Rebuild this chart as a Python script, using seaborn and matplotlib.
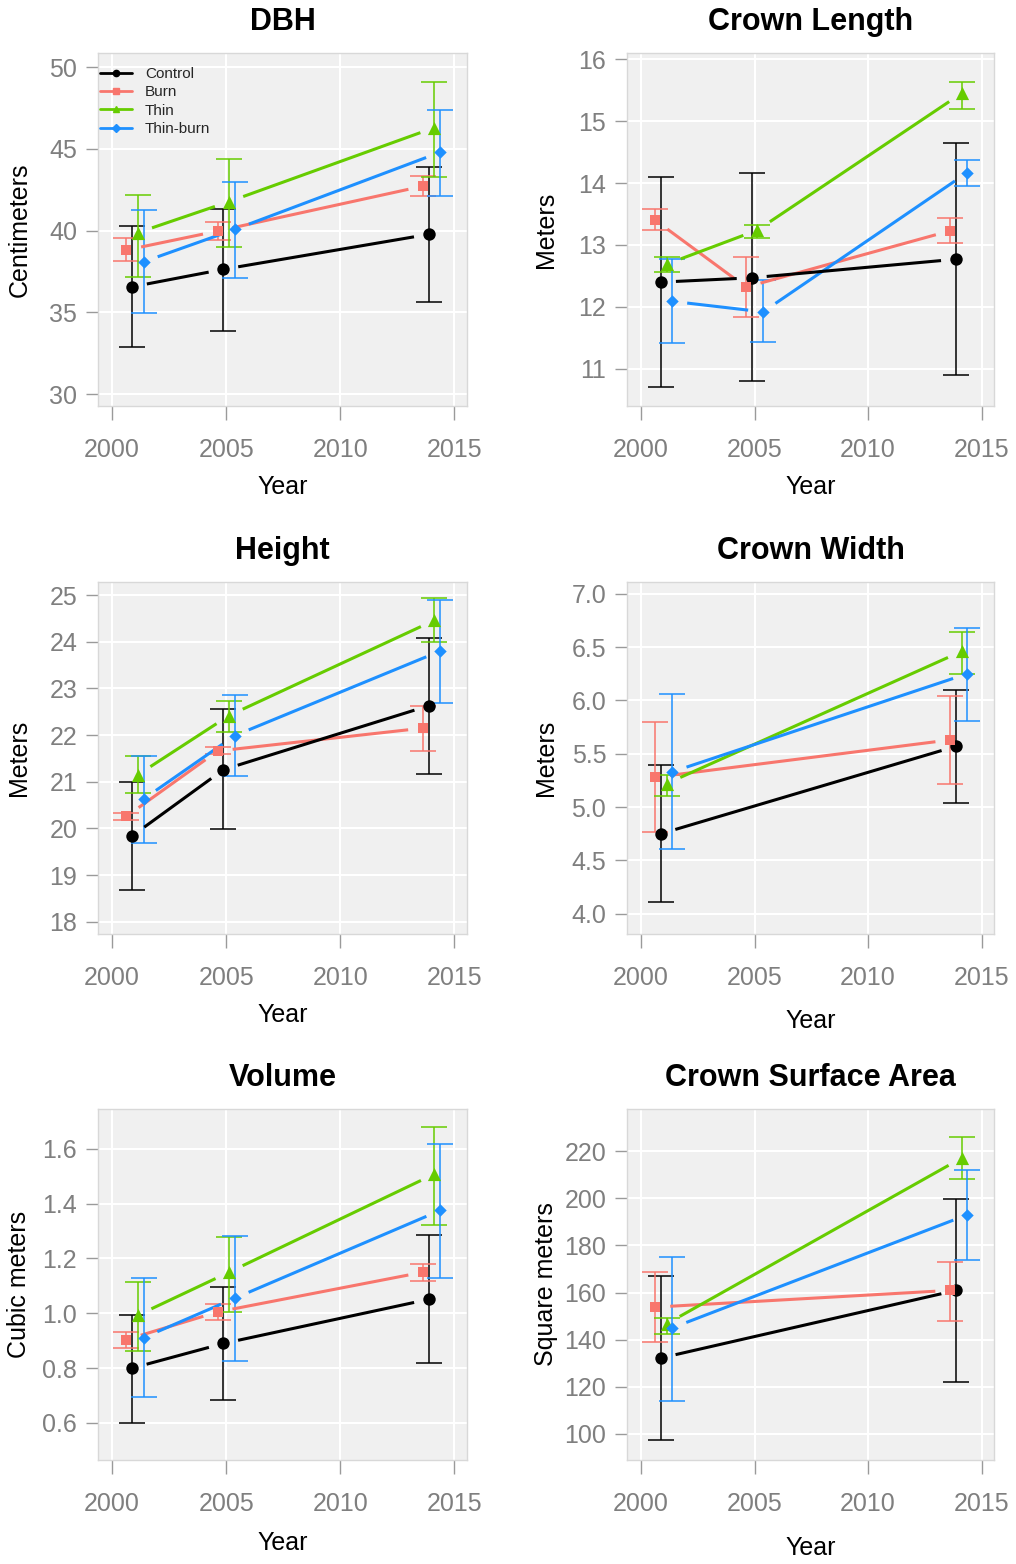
import numpy as np
import pandas as pd
import matplotlib
matplotlib.use("Agg")
import matplotlib.pyplot as plt
from matplotlib.lines import Line2D
import seaborn as sns

# ---------------- data ----------------
TREATMENTS = ["Control", "Burn", "Thin", "Thin-burn"]
YEARS_3 = [2001, 2005, 2014]
YEARS_2 = [2001, 2014]
X_TICKS = [2000, 2005, 2010, 2015]

dbh_mean = {"Control": [36.56, 37.63, 39.77], "Burn": [38.81, 39.97, 42.72],
            "Thin": [39.87, 41.77, 46.30], "Thin-burn": [38.09, 40.07, 44.79]}
dbh_low = {"Control": [32.86, 33.85, 35.65], "Burn": [38.13, 39.42, 42.13],
           "Thin": [37.18, 39.01, 43.29], "Thin-burn": [34.93, 37.08, 42.13]}
dbh_high = {"Control": [40.29, 41.31, 43.86], "Burn": [39.52, 40.54, 43.33],
            "Thin": [42.17, 44.35, 49.10], "Thin-burn": [41.24, 42.97, 47.40]}

cl_mean = {"Control": [12.40, 12.47, 12.77], "Burn": [13.40, 12.32, 13.23],
           "Thin": [12.69, 13.24, 15.45], "Thin-burn": [12.09, 11.92, 14.17]}
cl_low = {"Control": [10.71, 10.80, 10.90], "Burn": [13.24, 11.84, 13.03],
          "Thin": [12.56, 13.12, 15.19], "Thin-burn": [11.41, 11.44, 13.96]}
cl_high = {"Control": [14.09, 14.16, 14.64], "Burn": [13.58, 12.80, 13.44],
           "Thin": [12.81, 13.33, 15.63], "Thin-burn": [12.77, 12.44, 14.37]}

ht_mean = {"Control": [19.84, 21.26, 22.63], "Burn": [20.26, 21.66, 22.15],
           "Thin": [21.15, 22.42, 24.46], "Thin-burn": [20.63, 21.99, 23.80]}
ht_low = {"Control": [18.68, 19.98, 21.17], "Burn": [20.19, 21.60, 21.67],
          "Thin": [20.75, 22.06, 23.99], "Thin-burn": [19.68, 21.12, 22.69]}
ht_high = {"Control": [20.99, 22.56, 24.09], "Burn": [20.33, 21.75, 22.63],
           "Thin": [21.56, 22.74, 24.93], "Thin-burn": [21.56, 22.87, 24.89]}

cw_mean = {"Control": [4.75, 5.57], "Burn": [5.28, 5.63],
           "Thin": [5.22, 6.46], "Thin-burn": [5.33, 6.25]}
cw_low = {"Control": [4.11, 5.04], "Burn": [4.77, 5.22],
          "Thin": [5.10, 6.25], "Thin-burn": [4.61, 5.81]}
cw_high = {"Control": [5.39, 6.10], "Burn": [5.80, 6.04],
           "Thin": [5.30, 6.64], "Thin-burn": [6.06, 6.68]}

vol_mean = {"Control": [0.80, 0.89, 1.051], "Burn": [0.904, 1.005, 1.150],
            "Thin": [0.993, 1.150, 1.508], "Thin-burn": [0.911, 1.055, 1.375]}
vol_low = {"Control": [0.60, 0.685, 0.817], "Burn": [0.872, 0.977, 1.118],
           "Thin": [0.863, 1.005, 1.322], "Thin-burn": [0.693, 0.827, 1.130]}
vol_high = {"Control": [0.995, 1.096, 1.286], "Burn": [0.932, 1.033, 1.181],
            "Thin": [1.114, 1.280, 1.681], "Thin-burn": [1.128, 1.281, 1.619]}

csa_mean = {"Control": [132.2, 160.9], "Burn": [153.8, 160.9],
            "Thin": [146.7, 217.1], "Thin-burn": [145.0, 193.0]}
csa_low = {"Control": [97.3, 122.1], "Burn": [139.2, 148.1],
           "Thin": [142.2, 208.2], "Thin-burn": [114.1, 173.8]}
csa_high = {"Control": [166.9, 199.6], "Burn": [168.5, 173.0],
            "Thin": [149.3, 226.0], "Thin-burn": [174.9, 212.2]}

dbh_ticks = [30, 35, 40, 45, 50]
cl_ticks = [11, 12, 13, 14, 15, 16]
ht_ticks = [18, 19, 20, 21, 22, 23, 24, 25]
cw_ticks = [4.0, 4.5, 5.0, 5.5, 6.0, 6.5, 7.0]
cw_tick_labels = ["4.0", "4.5", "5.0", "5.5", "6.0", "6.5", "7.0"]
vol_ticks = [0.6, 0.8, 1.0, 1.2, 1.4, 1.6]
vol_tick_labels = ["0.6", "0.8", "1.0", "1.2", "1.4", "1.6"]
csa_ticks = [100, 120, 140, 160, 180, 200, 220]

titles = ["DBH", "Crown Length", "Height", "Crown Width", "Volume", "Crown Surface Area"]
ylabels = ["Centimeters", "Meters", "Meters", "Meters", "Cubic meters", "Square meters"]

# ---------------- style ----------------
COLORS = {"Control": "#000000", "Burn": "#F8766D", "Thin": "#66CC00", "Thin-burn": "#1E90FF"}
MARKERS = {"Control": "o", "Burn": "s", "Thin": "^", "Thin-burn": "D"}
MSIZE = {"Control": 80, "Burn": 56, "Thin": 90, "Thin-burn": 40}
DODGE = {"Burn": -0.375, "Control": -0.125, "Thin": 0.125, "Thin-burn": 0.375}

sns.set_theme(style="darkgrid", rc={"axes.facecolor": "#F0F0F0", "grid.color": "white",
                                    "grid.linewidth": 1.5, "axes.axisbelow": True})
plt.rcParams["font.family"] = ["Liberation Sans", "DejaVu Sans"]

panels = [
    dict(years=YEARS_3, mean=dbh_mean, low=dbh_low, high=dbh_high, ticks=dbh_ticks,
         tlabels=[str(t) for t in dbh_ticks], ylim=(29.27, 50.86), xlab_off=81),
    dict(years=YEARS_3, mean=cl_mean, low=cl_low, high=cl_high, ticks=cl_ticks,
         tlabels=[str(t) for t in cl_ticks], ylim=(10.40, 16.10), xlab_off=81),
    dict(years=YEARS_3, mean=ht_mean, low=ht_low, high=ht_high, ticks=ht_ticks,
         tlabels=[str(t) for t in ht_ticks], ylim=(17.74, 25.28), xlab_off=81),
    dict(years=YEARS_2, mean=cw_mean, low=cw_low, high=cw_high, ticks=cw_ticks,
         tlabels=cw_tick_labels, ylim=(3.81, 7.11), xlab_off=87),
    dict(years=YEARS_3, mean=vol_mean, low=vol_low, high=vol_high, ticks=vol_ticks,
         tlabels=vol_tick_labels, ylim=(0.465, 1.745), xlab_off=83),
    dict(years=YEARS_2, mean=csa_mean, low=csa_low, high=csa_high, ticks=csa_ticks,
         tlabels=[str(t) for t in csa_ticks], ylim=(88.9, 237.9), xlab_off=88),
]

W, H = 1016, 1564
fig = plt.figure(figsize=(W / 100, H / 100), dpi=100)

col_px = [(98, 467), (627, 994)]
row_px = [(53, 406), (582, 934), (1109, 1460)]
XLIM = (1999.38, 2015.55)
GAP = 15  # pixels


def gapped(ax, xs, ys, gap):
    pts = ax.transData.transform(np.column_stack([xs, ys]))
    inv = ax.transData.inverted()
    segs = []
    for p0, p1 in zip(pts[:-1], pts[1:]):
        d = p1 - p0
        u = d / np.hypot(*d)
        segs.append(inv.transform(np.vstack([p0 + u * gap, p1 - u * gap])))
    return segs


for i, p in enumerate(panels):
    r, c = divmod(i, 2)
    x0, x1 = col_px[c]
    y0, y1 = row_px[r]
    ax = fig.add_axes([x0 / W, 1 - y1 / H, (x1 - x0) / W, (y1 - y0) / H])
    ax.set_xlim(*XLIM)
    ax.set_ylim(*p["ylim"])
    ax.set_xticks(X_TICKS)
    ax.set_xticklabels([str(t) for t in X_TICKS])
    ax.set_yticks(p["ticks"])
    ax.set_yticklabels(p["tlabels"])

    rows = []
    for t in TREATMENTS:
        for yr, m, lo, hi in zip(p["years"], p["mean"][t], p["low"][t], p["high"][t]):
            rows.append(dict(treatment=t, x=yr + DODGE[t], mean=m, low=lo, high=hi))
    df = pd.DataFrame(rows)

    for t in TREATMENTS:
        d = df[df.treatment == t]
        ax.errorbar(d.x, d["mean"], yerr=[d["mean"] - d.low, d.high - d["mean"]], fmt="none",
                    ecolor=COLORS[t], elinewidth=1.1, capsize=9.4, capthick=1.1, zorder=2)
    for t in ["Burn", "Thin", "Thin-burn", "Control"]:
        d = df[df.treatment == t]
        for seg in gapped(ax, d.x.values, d["mean"].values, GAP):
            ax.plot(seg[:, 0], seg[:, 1], color=COLORS[t], lw=2.2, solid_capstyle="butt", zorder=3)
    for t in TREATMENTS:
        d = df[df.treatment == t]
        sns.scatterplot(data=d, x="x", y="mean", ax=ax, color=COLORS[t], marker=MARKERS[t],
                        s=MSIZE[t], linewidth=0, zorder=4, legend=False)

    ax.set_xlim(*XLIM)
    ax.set_ylim(*p["ylim"])
    ax.grid(True, which="major", color="white", lw=1.5)
    for sp in ax.spines.values():
        sp.set_visible(True)
        sp.set_color("#D8D8D8")
        sp.set_linewidth(1.0)
    ax.tick_params(axis="x", bottom=True, length=10, width=1.0, color="#9A9A9A",
                   labelcolor="#7F7F7F", labelsize=18, pad=13)
    ax.tick_params(axis="y", left=True, length=9, width=1.0, color="#9A9A9A",
                   labelcolor="#7F7F7F", labelsize=18, pad=6)

    ax.set_xlabel("Year", fontsize=18, color="black", va="center")
    ax.xaxis.set_label_coords(0.5, -p["xlab_off"] / (y1 - y0))
    ax.set_ylabel(ylabels[i], fontsize=18, color="black", va="center")
    ax.yaxis.set_label_coords(-0.213 if c == 0 else -0.222, 0.5)
    ax.set_title(titles[i], fontsize=22, fontweight="bold", color="black",
                 y=1 + 31 / (y1 - y0), va="center", pad=0)

    if i == 0:
        handles = [Line2D([0], [0], color=COLORS[t], lw=2, marker=MARKERS[t], markersize=4.5)
                   for t in TREATMENTS]
        ax.legend(handles, TREATMENTS, loc="upper left", bbox_to_anchor=(0.005, 0.96),
                  frameon=False, fontsize=11, handlelength=2.1, handletextpad=0.85,
                  labelspacing=0.28, borderpad=0, borderaxespad=0)

fig.savefig("out.png", dpi=100)
